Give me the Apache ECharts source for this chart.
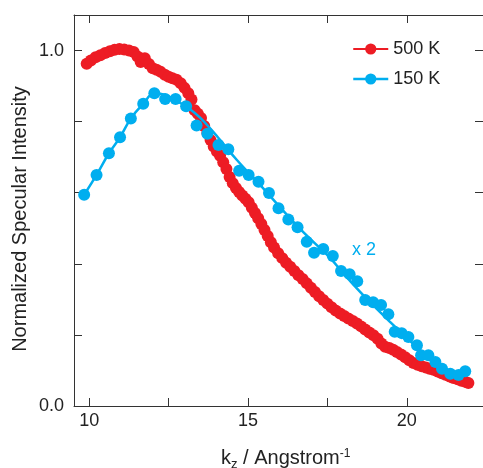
<!DOCTYPE html>
<html>
<head>
<meta charset="utf-8">
<script src="https://cdn.jsdelivr.net/npm/echarts@6/dist/echarts.min.js"></script>
<style>
html,body{margin:0;padding:0;background:#fff;}
#c{width:483px;height:468px;}
</style>
</head>
<body>
<div id="c"></div>
<script>
// ---- data ----
const seriesNames = ['500 K', '150 K'];
const xTickValues = [10, 12.5, 15, 17.5, 20];
const xLabelValues = [10, 15, 20];
const yTickValues = [0, 0.2, 0.4, 0.6, 0.8, 1.0];
const yLabelValues = [0, 1.0];

// 500 K : k_z and normalized intensity
const red_k = [9.92,10.05,10.20,10.35,10.50,10.65,10.80,10.95,11.10,11.25,11.40,11.52,11.62,11.75,11.88,12.00,12.12,12.25,12.38,12.50,
  12.62,12.75,12.88,13.00,13.12,13.22,13.32,13.42,13.52,13.62,13.72,13.82,13.92,14.02,14.12,14.22,14.32,14.42,14.52,14.62,
  14.72,14.82,14.92,15.02,15.12,15.22,15.32,15.42,15.52,15.62,15.72,15.82,15.95,16.08,16.20,16.33,16.46,16.59,16.72,16.85,
  16.98,17.11,17.24,17.37,17.50,17.63,17.76,17.90,18.03,18.16,18.30,18.43,18.56,18.69,18.82,18.95,19.08,19.20,19.32,19.45,
  19.57,19.69,19.82,19.95,20.08,20.21,20.34,20.47,20.60,20.72,20.84,20.97,21.10,21.22,21.35,21.47,21.60,21.72,21.84,21.94];
const red_I = [0.963,0.972,0.981,0.987,0.993,0.998,1.002,1.004,1.003,1.000,0.996,0.983,0.968,0.978,0.962,0.950,0.946,0.940,0.932,0.926,
  0.922,0.918,0.908,0.895,0.880,0.862,0.832,0.822,0.810,0.788,0.768,0.748,0.730,0.716,0.704,0.686,0.667,0.644,0.627,0.613,
  0.602,0.592,0.583,0.573,0.558,0.543,0.528,0.512,0.495,0.478,0.461,0.446,0.430,0.416,0.403,0.392,0.380,0.368,0.357,0.345,
  0.333,0.321,0.309,0.298,0.288,0.278,0.269,0.260,0.253,0.246,0.239,0.232,0.224,0.215,0.207,0.199,0.189,0.176,0.167,0.163,
  0.158,0.152,0.145,0.137,0.129,0.121,0.116,0.112,0.108,0.105,0.102,0.097,0.092,0.088,0.083,0.079,0.075,0.071,0.068,0.065];

// 150 K (x 2) : measured points
const blue_k = [9.84,10.23,10.62,10.97,11.31,11.70,12.05,12.39,12.72,13.05,13.38,13.72,14.07,14.38,14.72,15.02,15.33,15.66,15.96,16.27,
  16.56,16.85,17.08,17.37,17.67,17.93,18.20,18.44,18.69,18.94,19.19,19.42,19.62,19.84,20.05,20.32,20.45,20.68,20.90,21.11,
  21.37,21.63,21.84];
const blue_I = [0.594,0.650,0.711,0.756,0.809,0.850,0.880,0.864,0.864,0.843,0.789,0.766,0.734,0.722,0.662,0.650,0.631,0.599,0.556,0.525,
  0.503,0.462,0.431,0.442,0.422,0.380,0.371,0.351,0.298,0.292,0.284,0.258,0.209,0.205,0.194,0.171,0.143,0.143,0.124,0.105,
  0.091,0.087,0.098];

// 150 K : smooth guide line
const fit_k = [9.84,10.23,10.62,10.97,11.31,11.70,12.04,12.40,12.70,13.10,13.49,14.05,14.65,15.38,16.00,16.64,17.10,17.59,18.05,18.53,
  19.00,19.48,19.95,20.42,20.85,21.21,21.50,21.68,21.84];
const fit_I = [0.594,0.650,0.711,0.756,0.809,0.850,0.879,0.875,0.861,0.840,0.811,0.756,0.692,0.622,0.560,0.498,0.458,0.416,0.368,0.321,
  0.278,0.236,0.196,0.157,0.126,0.106,0.092,0.086,0.090];

const RED = '#ED1C24';
const BLUE = '#00AEEF';
const AXIS = '#333333';
const TEXT = '#222222';
const FONT = '"Liberation Sans", Arial, sans-serif';

const zip = (a, b) => a.map((v, i) => [v, b[i]]);

// x-axis title pieces: k_z / Angstrom^-1 (text, font size, baseline offset)
const titleParts = [['k', 20, 0], ['z', 13, 4], [' / Angstrom', 20, 0], ['-1', 12, -7]];
const mctx = document.createElement('canvas').getContext('2d');
function textW(t, s) { mctx.font = s + 'px ' + FONT; return mctx.measureText(t).width; }
const titleBaseline = 465;
const titleLeft = 221;
const titleEls = [];
{
  let x = titleLeft;
  titleParts.forEach(([t, s, dy]) => {
    titleEls.push({
      type: 'text', x: x, y: titleBaseline + dy - 0.3465 * s,
      style: {text: t, fill: TEXT, font: s + 'px ' + FONT, align: 'left', verticalAlign: 'middle'}
    });
    x += textW(t, s);
  });
}

const chart = echarts.init(document.getElementById('c'), null, {renderer: 'canvas'});

const xCommon = {
  type: 'value', min: 9.52, max: 22.4,
  axisLine: {show: true, onZero: false, lineStyle: {color: AXIS, width: 1}},
  axisTick: {show: true, inside: true, length: 8, customValues: xTickValues, lineStyle: {color: AXIS, width: 1}},
  splitLine: {show: false}
};
const yCommon = {
  type: 'value', min: 0, max: 1.1,
  axisLine: {show: true, onZero: false, lineStyle: {color: AXIS, width: 1}},
  axisTick: {show: true, inside: true, length: 8, customValues: yTickValues, lineStyle: {color: AXIS, width: 1}},
  splitLine: {show: false}
};

chart.setOption({
  animation: false,
  backgroundColor: '#ffffff',
  grid: {left: 74, right: 0, top: 15, bottom: 62, containLabel: false},
  xAxis: [
    Object.assign({}, xCommon, {
      position: 'bottom',
      axisLabel: {show: true, customValues: xLabelValues, fontSize: 18, color: TEXT, margin: 6,
        fontFamily: FONT, formatter: v => String(v)}
    }),
    Object.assign({}, xCommon, {position: 'top', axisLabel: {show: false}})
  ],
  yAxis: [
    Object.assign({}, yCommon, {
      position: 'left',
      axisLabel: {show: true, customValues: yLabelValues, fontSize: 18, color: TEXT, margin: 10,
        fontFamily: FONT, formatter: v => v.toFixed(1)}
    }),
    Object.assign({}, yCommon, {position: 'right', axisLabel: {show: false}})
  ],
  legend: {
    orient: 'vertical',
    left: 347, top: 34,
    itemWidth: 35, itemHeight: 14, itemGap: 10,
    textStyle: {fontSize: 18, lineHeight: 20, color: TEXT, fontFamily: FONT},
    data: [
      {name: '500 K'},
      {name: '150 K', lineStyle: {width: 2.5, color: BLUE, opacity: 1}}
    ]
  },
  series: [
    {
      name: '500 K', type: 'line', xAxisIndex: 0, yAxisIndex: 0,
      data: zip(red_k, red_I),
      symbol: 'circle', symbolSize: 12, showAllSymbol: true,
      itemStyle: {color: RED},
      lineStyle: {color: RED, width: 2.5},
      z: 2
    },
    {
      name: '150 K fit', type: 'line', xAxisIndex: 0, yAxisIndex: 0,
      data: zip(fit_k, fit_I),
      smooth: 0.4, symbol: 'none',
      lineStyle: {color: BLUE, width: 2.5},
      z: 3
    },
    {
      name: '150 K', type: 'line', xAxisIndex: 0, yAxisIndex: 0,
      data: zip(blue_k, blue_I),
      symbol: 'circle', symbolSize: 12, showAllSymbol: true,
      itemStyle: {color: BLUE},
      lineStyle: {color: BLUE, width: 2.5, opacity: 0},
      z: 4
    }
  ],
  graphic: [
    {
      type: 'text', x: 20, y: 219, rotation: Math.PI / 2,
      style: {text: 'Normalized Specular Intensity', fill: TEXT, font: '20px ' + FONT,
        align: 'center', verticalAlign: 'middle'}
    },
    {
      type: 'text', x: 352, y: 250,
      style: {text: 'x 2', fill: BLUE, font: '18px ' + FONT, align: 'left', verticalAlign: 'middle'}
    }
  ].concat(titleEls)
});
</script>
</body>
</html>
